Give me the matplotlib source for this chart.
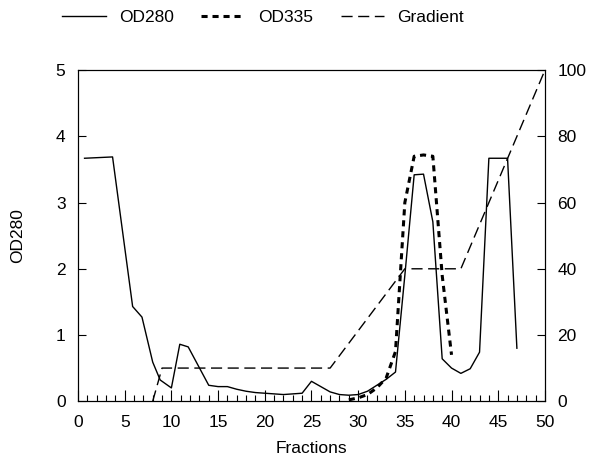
import numpy as np
import matplotlib
matplotlib.use('Agg')
import matplotlib.pyplot as plt
from matplotlib.ticker import MultipleLocator

plt.rcParams['font.family'] = ['Liberation Sans', 'DejaVu Sans']

# OD280 trace
od280_x = [0.7, 3.7, 5.85, 6.85, 8, 8.8, 10, 10.9, 11.8, 14, 15, 16, 17, 18, 19, 20,
           21, 22, 23, 24, 25, 26, 27, 28, 29, 30, 31, 32, 33, 34, 35, 36, 37,
           38, 39, 40, 41, 42, 43, 44, 46, 47]
od280_y = [3.67, 3.69, 1.43, 1.27, 0.59, 0.32, 0.2, 0.86, 0.82, 0.24, 0.22, 0.22, 0.18, 0.15, 0.13, 0.12,
           0.11, 0.1, 0.11, 0.12, 0.3, 0.22, 0.14, 0.1, 0.09, 0.1, 0.15, 0.24, 0.33, 0.44, 1.9, 3.42, 3.43,
           2.71, 0.64, 0.5, 0.42, 0.49, 0.74, 3.67, 3.67, 0.8]

# OD335 trace
od335_x = [29, 30, 31, 32, 33, 34, 35, 36, 37, 38, 39, 40]
od335_y = [0.02, 0.05, 0.1, 0.2, 0.35, 0.75, 3.0, 3.7, 3.72, 3.7, 1.9, 0.7]

# gradient (%)
grad_x = [8, 9, 27, 35, 41, 50]
grad_y = [0, 10, 10, 40, 40, 100]

fig = plt.figure(figsize=(5.91, 4.59), dpi=100)
ax = fig.add_axes([0.132, 0.126, 0.79, 0.721])
ax2 = ax.twinx()

l1, = ax.plot(od280_x, od280_y, color='black', lw=1.0, label='OD280')
l2, = ax.plot(od335_x, od335_y, color='black', lw=2.2, linestyle=(0, (2, 1.6)), label='OD335')
l3, = ax2.plot(grad_x, grad_y, color='black', lw=1.0, linestyle=(0, (8, 4)), label='Gradient')

ax.set_xlim(0, 50)
ax.set_ylim(0, 5)
ax2.set_ylim(0, 100)

ax.xaxis.set_major_locator(MultipleLocator(5))
ax.xaxis.set_minor_locator(MultipleLocator(1))
ax.yaxis.set_major_locator(MultipleLocator(1))
ax2.yaxis.set_major_locator(MultipleLocator(20))

fs = 12.5
ax.tick_params(axis='x', which='major', direction='in', length=8, width=0.8, labelsize=fs, pad=10)
ax.tick_params(axis='x', which='minor', direction='in', length=4, width=0.8)
ax.tick_params(axis='y', direction='in', length=6, width=0.8, labelsize=fs, pad=9)
ax2.tick_params(axis='y', direction='in', length=6, width=0.8, labelsize=fs, pad=9)

for a in (ax, ax2):
    for pos in ['right', 'top', 'bottom', 'left']:
        a.spines[pos].set_linewidth(0.8)

ax.set_xlabel('Fractions', fontsize=fs, labelpad=8)
ax.set_ylabel('OD280', fontsize=fs, labelpad=22)

fig.legend(handles=[l1, l2, l3], loc='center', bbox_to_anchor=(0.445, 0.962), ncol=3,
           frameon=False, fontsize=fs, handlelength=2.5, columnspacing=1.6, handletextpad=0.75)

fig.savefig('out.png', dpi=100)
